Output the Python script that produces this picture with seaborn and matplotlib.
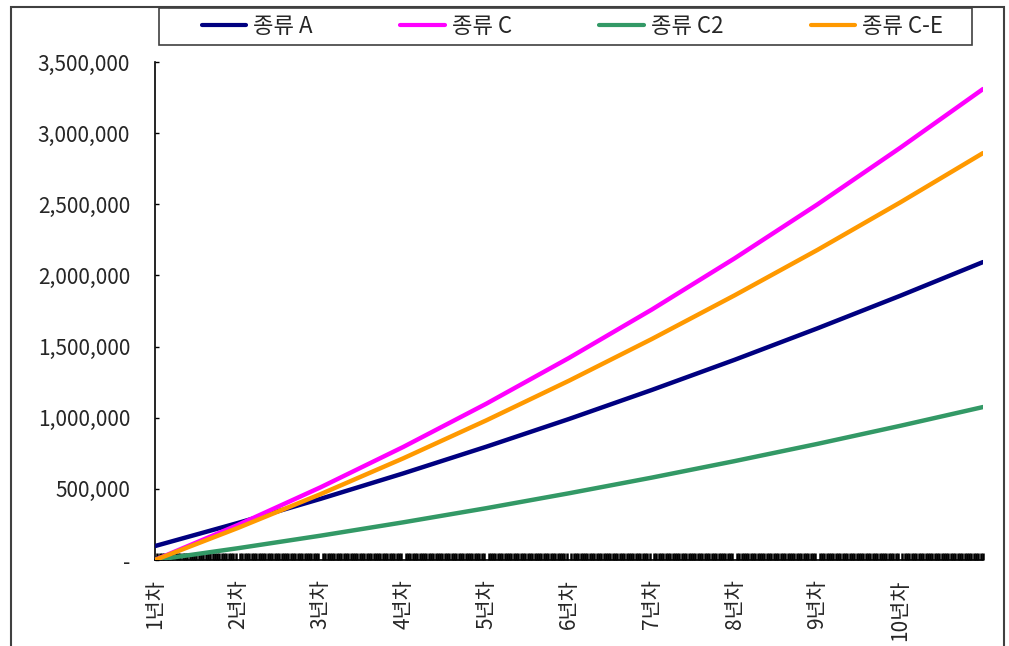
# =============================================================================
# 1. 라이브러리
# =============================================================================
import pandas as pd
import matplotlib
matplotlib.use("Agg")
import matplotlib.pyplot as plt
from matplotlib.patches import Rectangle
from matplotlib.ticker import FuncFormatter
import seaborn as sns

# =============================================================================
# 2. 데이터 (그림에서 읽은 연차별 누적 값)
# =============================================================================
개월 = [0, 12, 24, 36, 48, 60, 72, 84, 96, 108, 120]
연차_라벨 = ['1년차', '2년차', '3년차', '4년차', '5년차',
          '6년차', '7년차', '8년차', '9년차', '10년차']
종류_A = [98000, 260000, 430000, 609000, 796000, 991000,
        1195000, 1407000, 1628000, 1857000, 2094000]
종류_C = [0, 246000, 511000, 795000, 1098000, 1420000,
        1760000, 2120000, 2499000, 2897000, 3310000]
종류_C2 = [0, 82700, 171000, 265000, 364000, 469000,
         579000, 695000, 816000, 943000, 1075000]
종류_CE = [0, 225000, 463000, 715000, 981000, 1260000,
         1553000, 1860000, 2179000, 2513000, 2860000]

시리즈 = {'종류 A': 종류_A, '종류 C': 종류_C, '종류 C2': 종류_C2, '종류 C-E': 종류_CE}
색상 = {'종류 A': '#000080', '종류 C': '#FF00FF', '종류 C2': '#339966', '종류 C-E': '#FF9900'}

df = pd.concat(
    [pd.DataFrame({'개월': 개월, '금액': v, '종류': k}) for k, v in 시리즈.items()],
    ignore_index=True)

# =============================================================================
# 3. 그래프
# =============================================================================
sns.set_style("white")
plt.rcParams['font.family'] = ['Noto Sans CJK KR', 'DejaVu Sans']

fig = plt.figure(figsize=(10.09, 6.46), dpi=100)
ax = fig.add_axes([155 / 1009, 1 - 560 / 646, 828 / 1009, 498 / 646])

sns.lineplot(data=df, x='개월', y='금액', hue='종류', palette=색상,
             hue_order=list(시리즈.keys()), linewidth=3.2, ax=ax, zorder=3)

ax.set_xlim(0, 120)
ax.set_ylim(0, 3500000)
ax.set_xlabel('')
ax.set_ylabel('')

# y축: 쉼표 표시, 0은 '-'
ax.set_yticks(range(0, 3500001, 500000))
ax.yaxis.set_major_formatter(FuncFormatter(lambda v, p: '-' if v == 0 else f'{v:,.0f}'))
ax.tick_params(axis='y', direction='in', length=3, width=1, color='black',
               labelsize=15, labelcolor='#262626', pad=18, left=True)

# x축: 연차 라벨 + 촘촘한 눈금
ax.set_xticks(개월[:-1])
ax.set_xticklabels(연차_라벨, rotation=90, va='top', ha='center')
ax.tick_params(axis='x', which='major', length=0, labelsize=15,
               labelcolor='#262626', pad=14)
ax.set_xticks([i / 3 for i in range(361)], minor=True)
ax.tick_params(axis='x', which='minor', direction='in', length=5, width=1.8,
               color='black', bottom=True)

for s in ['top', 'right']:
    ax.spines[s].set_visible(False)
for s in ['left', 'bottom']:
    ax.spines[s].set_color('black')
    ax.spines[s].set_linewidth(1.2)

# 범례 (틀은 따로 그림)
handles, labels = ax.get_legend_handles_labels()
ax.get_legend().remove()
leg = fig.legend(handles, labels, ncol=4, mode='expand',
                 bbox_to_anchor=(202 / 1009, 1 - 45 / 646, 741 / 1009, 37 / 646),
                 loc='center', fontsize=16, frameon=False,
                 handlelength=2.0, handletextpad=0.3, borderaxespad=0,
                 borderpad=0)
for line in leg.get_lines():
    line.set_linewidth(3)
fig.patches.append(Rectangle((159 / 1009, 1 - 45 / 646), 813 / 1009, 37 / 646,
                             transform=fig.transFigure, fill=False,
                             edgecolor='#404040', linewidth=1.2))

# 차트 바깥 테두리
fig.patches.append(Rectangle((11 / 1009, -0.02), 993 / 1009, 1 - 7 / 646 + 0.02,
                             transform=fig.transFigure, fill=False,
                             edgecolor='#404040', linewidth=1.5, zorder=0))

fig.savefig('out.png', dpi=100)
